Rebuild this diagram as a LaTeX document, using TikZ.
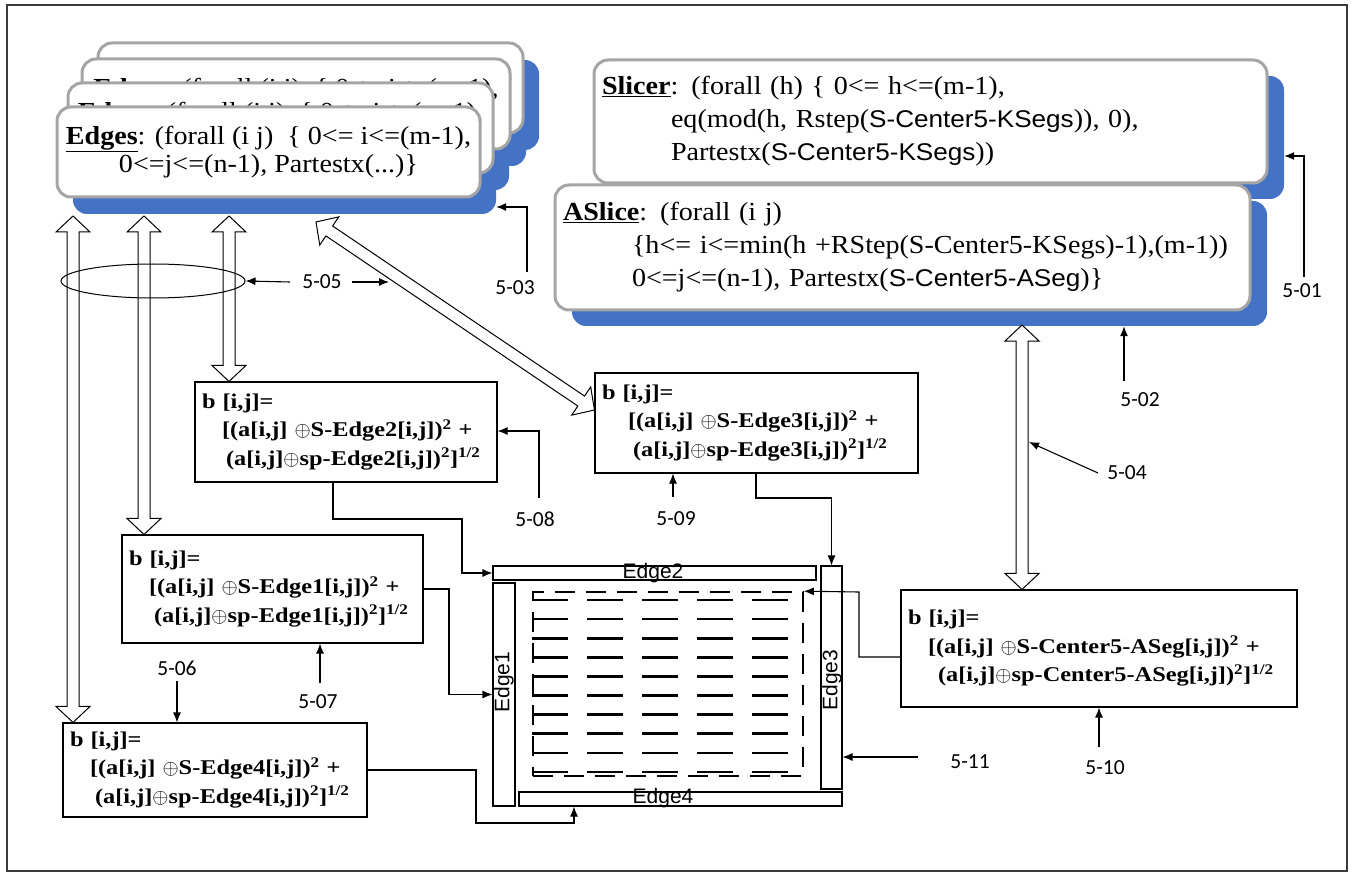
\documentclass[tikz,border=0pt]{standalone}
\usepackage{fontspec}
\setmainfont{Liberation Serif}
\newfontfamily\topfont{Liberation Serif}[FakeStretch=1.08]
\newfontfamily\topsans{Liberation Sans}[FakeStretch=1.08,Scale=0.93]
\newfontfamily\formfont{Liberation Serif}[FakeStretch=1.16]
\newfontfamily\lblfont{Carlito}
\newfontfamily\barfont{Liberation Sans}
\usetikzlibrary{arrows.meta,calc,shapes.geometric}
\definecolor{boxgray}{HTML}{A5A5A5}
\definecolor{shblue}{HTML}{4472C4}
\definecolor{framegray}{HTML}{3A3A3A}

% text of the stacked Edges cards
\newcommand\edgestext{\textbf{\underline{Edges}}: (forall (i j)\ \ \{ 0<= i<=(m-1),\\0<=j<=(n-1), Partestx(...)\}}
% b[i,j] formula for a segment: #1 name, #2/#3 indents of lines 2/3
\newcommand\bform[3]{b [i,j]=\\\hspace*{#2}[(a[i,j] $\oplus$S-#1[i,j])\textsuperscript{2} +\\\hspace*{#3}(a[i,j]$\oplus$sp-#1[i,j])\textsuperscript{2}]\textsuperscript{1/2}}
% outlined double-headed arrow between two named points
\newcommand\hollowarrow[2]{%
  \draw[hollow] (#1)
   -- ($(#1)!16pt!(#2)!17pt!90:(#2)$)
   -- ($(#1)!16pt!(#2)!6pt!90:(#2)$)
   -- ($(#2)!16pt!(#1)!6pt!-90:(#1)$)
   -- ($(#2)!16pt!(#1)!17pt!-90:(#1)$)
   -- (#2)
   -- ($(#2)!16pt!(#1)!17pt!90:(#1)$)
   -- ($(#2)!16pt!(#1)!6pt!90:(#1)$)
   -- ($(#1)!16pt!(#2)!6pt!-90:(#2)$)
   -- ($(#1)!16pt!(#2)!17pt!-90:(#2)$)
   -- cycle;}

\begin{document}
\begin{tikzpicture}[x=1pt,y=-1pt,
  topbox/.style={draw=boxgray, line width=3pt, fill=white, rounded corners=14pt,
    inner xsep=8pt, inner ysep=0pt, font={\topfont\fontsize{26}{33}\selectfont}},
  edgebox/.style={topbox, align=center, font={\topfont\fontsize{26}{28}\selectfont}},
  shadowbox/.style={fill=shblue, rounded corners=14pt, inner sep=0pt},
  formbox/.style={draw, line width=1.1pt, fill=white, inner xsep=7pt, inner ysep=0pt,
    align=left, font={\formfont\bfseries\fontsize{21}{28.5}\selectfont}},
  edgebar/.style={draw, line width=1.1pt, fill=white, inner sep=0pt},
  barlbl/.style={font={\barfont\fontsize{21}{24}\selectfont}, inner sep=0pt},
  lbl/.style={font={\lblfont\fontsize{21.5}{24}\selectfont}, inner sep=1pt},
  conn/.style={line width=1.1pt, -{Latex[length=10pt,width=8pt]}},
  hollow/.style={draw, line width=1pt, fill=white, line join=miter},
  gridframe/.style={draw, line width=1.6pt, dash pattern=on 20pt off 11pt, inner sep=0pt},
  gridline/.style={line width=2.6pt}]
\useasboundingbox (0,0) rectangle (1351,874);
\draw[framegray, line width=2.5pt] (7,5) rectangle (1347,871);

% ---- stacked Edges cards ----
\node[shadowbox, minimum width=425pt, minimum height=90pt] (esh4) at (326.5,105) {};
\node[shadowbox, minimum width=428pt, minimum height=90pt] (esh3) at (312,121) {};
\node[shadowbox, minimum width=425pt, minimum height=90pt] (esh2) at (296.5,145) {};
\node[shadowbox, minimum width=423pt, minimum height=90pt] (esh1) at (284.5,169) {};
\node[edgebox, minimum width=425pt, minimum height=90pt] (edges4) at (310.5,88) {\edgestext};
\node[edgebox, minimum width=428pt, minimum height=90pt] (edges3) at (296,104) {\edgestext};
\node[edgebox, minimum width=425pt, minimum height=90pt] (edges2) at (280.5,128) {\edgestext};
\node[edgebox, minimum width=423pt, minimum height=90pt] (edges1) at (268.5,152) {\edgestext};

% ---- Slicer / ASlice cards ----
\node[shadowbox, minimum width=673pt, minimum height=123pt] (slicersh) at (947.5,137.5) {};
\node[shadowbox, minimum width=695pt, minimum height=125pt] (aslicesh) at (919.5,263.5) {};
\node[topbox, align=left, text width=657pt, minimum height=123pt] (slicer) at (930.5,121.5)
  {\textbf{\underline{Slicer}}: (forall (h) \{ 0<= h<=(m-1),\\
   \hspace*{69pt}eq(mod(h, Rstep({\topsans S-Center5-KSegs})), 0),\\
   \hspace*{69pt}Partestx({\topsans S-Center5-KSegs}))};
\node[topbox, align=left, text width=679pt, minimum height=125pt] (aslice) at (902.5,247.5)
  {\textbf{\underline{ASlice}}: (forall (i j)\\
   \hspace*{69pt}\{h<= i<=min(h +RStep(S-Center5-KSegs)-1),(m-1))\\
   \hspace*{69pt}0<=j<=(n-1), Partestx({\topsans S-Center5-ASeg})\}};

% ---- formula boxes ----
\node[formbox, text width=288pt, minimum height=100pt] (e2box) at (346,432) {\bform{Edge2}{20pt}{24pt}};
\node[formbox, text width=309pt, minimum height=100pt] (e3box) at (756.5,423) {\bform{Edge3}{26pt}{31pt}};
\node[formbox, text width=287pt, minimum height=108pt] (e1box) at (272.5,589) {\bform{Edge1}{20pt}{25pt}};
\node[formbox, text width=290pt, minimum height=94pt] (e4box) at (215,770) {\bform{Edge4}{20pt}{25pt}};
\node[formbox, text width=382pt, minimum height=117pt] (cbox) at (1099,648.5) {\bform{Center5-ASeg}{20pt}{30pt}};

% ---- outlined double arrows ----
\coordinate (h1a) at (73,216);  \coordinate (h1b) at (e4box.north -| 73,0);
\coordinate (h2a) at (144,216); \coordinate (h2b) at (e1box.north -| 144,0);
\coordinate (h3a) at (229,216); \coordinate (h3b) at (e2box.north -| 229,0);
\coordinate (h4a) at (316,222); \coordinate (h4b) at (e3box.west |- 0,410);
\coordinate (h5a) at (1022,325); \coordinate (h5b) at (cbox.north -| 1022,0);
\hollowarrow{h1a}{h1b}
\hollowarrow{h2a}{h2b}
\hollowarrow{h3a}{h3b}
\hollowarrow{h4a}{h4b}
\hollowarrow{h5a}{h5b}
\node[draw, ellipse, line width=1pt, minimum width=184pt, minimum height=34pt, inner sep=0pt] (ell) at (153,281) {};

% ---- segmented image with its four edges ----
\node[edgebar, minimum width=323pt, minimum height=14pt] (edge2bar) at (654.5,573) {};
\node[edgebar, minimum width=21pt, minimum height=223pt] (edge3bar) at (831.5,677.5) {};
\node[edgebar, minimum width=22pt, minimum height=223pt] (edge1bar) at (504,694.5) {};
\node[edgebar, minimum width=323pt, minimum height=14pt] (edge4bar) at (680.5,799) {};
\node[barlbl] (edge2lbl) at (653,573) {Edge2};
\node[barlbl, rotate=90] (edge3lbl) at (832,680) {Edge3};
\node[barlbl, rotate=90] (edge1lbl) at (504,682) {Edge1};
\node[barlbl] (edge4lbl) at (663,798) {Edge4};
\node[gridframe, minimum width=270pt, minimum height=184pt] (grid) at (668,684) {};
\foreach \r in {0,...,9}{\foreach \c in {0,...,4}{
  \draw[gridline] ({532+55*\c},{600+19.1*\r}) -- ++(36,0);}}

% ---- data flow into the edges ----
\draw[conn] (e2box.south -| 333,0) |- (462,519) |- (edge2bar.west);
\draw[conn] (e1box.east) -| (edge1bar.west -| 449,0) -- (edge1bar.west);
\draw[conn] (e4box.east) -| (476,823) -| (edge4bar.south -| 574,0);
\draw[conn] (e3box.south -| 756,0) |- (edge3bar.north |- 0,498) -- (edge3bar.north);
\draw[conn] (cbox.west |- 0,657) -| (859,592) -- (grid.north east);

% ---- reference numerals ----
\node[lbl] (l501) at (1302,291) {5-01};
\node[lbl] (l502) at (1140,400) {5-02};
\node[lbl] (l503) at (515,288) {5-03};
\node[lbl] (l504) at (1127,473) {5-04};
\node[lbl] (l505) at (322,282) {5-05};
\node[lbl] (l506) at (177,668) {5-06};
\node[lbl] (l507) at (318,702) {5-07};
\node[lbl] (l508) at (535,519) {5-08};
\node[lbl] (l509) at (676,519) {5-09};
\node[lbl] (l510) at (1105,768) {5-10};
\node[lbl] (l511) at (970,762) {5-11};

\coordinate (s501) at (1304,277);
\coordinate (s502) at (1124,381);
\coordinate (s503) at (527,272);
\coordinate (s504) at (1098,473);
\coordinate (t504) at (1029,442);
\coordinate (s505a) at (290,282);
\coordinate (s505b) at (352,282);
\coordinate (t505b) at (389,282);
\coordinate (s506) at (177,681);
\coordinate (s507) at (320,683);
\coordinate (s508) at (539,498);
\coordinate (s509) at (673,497);
\coordinate (s510) at (1099,747);
\coordinate (s511) at (918,757);

\draw[conn] (s501) |- (slicersh.east |- 0,156);
\draw[conn] (s502) -- (aslicesh.south -| s502);
\draw[conn] (s503) |- (esh1.east |- 0,207);
\draw[conn] (s504) -- (t504);
\draw[conn] (s505a) -- (ell.east);
\draw[conn] (s505b) -- (t505b);
\draw[conn] (s506) -- (e4box.north -| s506);
\draw[conn] (s507) -- (e1box.south -| s507);
\draw[conn] (s508) |- (e2box.east |- 0,431);
\draw[conn] (s509) -- (e3box.south -| s509);
\draw[conn] (s510) -- (cbox.south -| s510);
\draw[conn] (s511) -- (edge3bar.east |- s511);
\end{tikzpicture}
\end{document}
